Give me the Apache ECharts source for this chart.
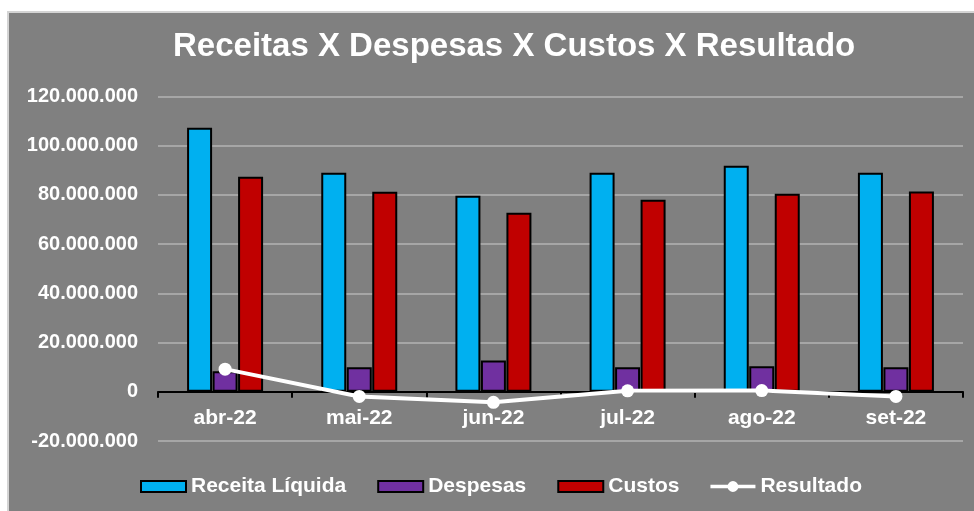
<!DOCTYPE html>
<html>
<head>
<meta charset="utf-8">
<title>Receitas X Despesas X Custos X Resultado</title>
<script src="https://cdn.jsdelivr.net/npm/echarts@6/dist/echarts.min.js"></script>
<style>
  html, body { margin: 0; padding: 0; background: #ffffff; }
  #frame {
    position: absolute; left: 7px; top: 11px; width: 980px; height: 520px;
    background: #808080; border: 2px solid #d4d4d4;
  }
  #chart { position: absolute; left: 0; top: 0; width: 974px; height: 511px; }
</style>
</head>
<body>
<div id="frame"></div>
<div id="chart"></div>
<script>
// dados
const meses = ['abr-22', 'mai-22', 'jun-22', 'jul-22', 'ago-22', 'set-22'];
const receitaLiquida = [107300000, 89000000, 79700000, 89000000, 91900000, 89000000];
const despesas = [8300000, 10000000, 12700000, 10000000, 10400000, 10000000];
const custos = [87400000, 81300000, 72800000, 78000000, 80500000, 81400000];
const resultado = [9200000, -1900000, -4300000, 400000, 500000, -1900000];

const FONT = '"Liberation Sans", Arial, sans-serif';

function fmtMilhar(v) {
  const s = Math.abs(v).toString().replace(/\B(?=(\d{3})+(?!\d))/g, '.');
  return (v < 0 ? '-' : '') + s;
}

const chartInstance = echarts.init(document.getElementById('chart'));

const barStyle = (cor) => ({
  color: cor,
  borderColor: '#000000',
  borderWidth: 2
});

// icone da legenda do Resultado: linha grossa com bolinha no meio
const iconeResultado = 'path://M0,4L50,4L50,8L0,8Z M31,6A6,6 0 1,1 19,6A6,6 0 1,1 31,6Z';

const option = {
  animation: false,
  backgroundColor: 'transparent',
  textStyle: { fontFamily: FONT },
  title: {
    text: 'Receitas X Despesas X Custos X Resultado',
    left: 173,
    top: 30,
    padding: 0,
    textStyle: { color: '#ffffff', fontSize: 33, fontWeight: 'bold', fontFamily: FONT }
  },
  legend: {
    left: 140,
    top: 476,
    padding: 0,
    itemWidth: 45,
    itemHeight: 11,
    itemGap: 31,
    textStyle: { color: '#ffffff', fontSize: 21, fontWeight: 'bold', fontFamily: FONT },
    data: [
      { name: 'Receita Líquida', icon: 'rect' },
      { name: 'Despesas', icon: 'rect' },
      { name: 'Custos', icon: 'rect' },
      { name: 'Resultado', icon: iconeResultado, itemStyle: { color: '#ffffff', borderWidth: 0 } }
    ]
  },
  grid: {
    left: 158,
    right: 11,
    top: 96.5,
    bottom: 70,
    containLabel: false
  },
  xAxis: {
    type: 'category',
    data: meses,
    axisLine: { onZero: true, lineStyle: { color: '#000000', width: 2 } },
    axisTick: { show: true, length: 6, lineStyle: { color: '#000000', width: 2 } },
    axisLabel: { color: '#ffffff', fontSize: 21, fontWeight: 'bold', fontFamily: FONT, margin: -33 }
  },
  yAxis: {
    type: 'value',
    min: -20000000,
    max: 120000000,
    interval: 20000000,
    axisLine: { show: false },
    axisTick: { show: false },
    splitLine: { lineStyle: { color: '#a6a6a6', width: 2 } },
    axisLabel: {
      color: '#ffffff', fontSize: 20, fontWeight: 'bold', fontFamily: FONT, margin: 20,
      formatter: fmtMilhar
    }
  },
  series: [
    {
      name: 'Receita Líquida',
      type: 'bar',
      barWidth: 25,
      barGap: '2%',
      itemStyle: barStyle('#00B0F0'),
      data: receitaLiquida
    },
    {
      name: 'Despesas',
      type: 'bar',
      barWidth: 25,
      barGap: '2%',
      itemStyle: barStyle('#7030A0'),
      data: despesas
    },
    {
      name: 'Custos',
      type: 'bar',
      barWidth: 25,
      barGap: '2%',
      itemStyle: barStyle('#C00000'),
      data: custos
    },
    {
      name: 'Resultado',
      type: 'line',
      symbol: 'circle',
      symbolSize: 13,
      z: 5,
      lineStyle: { color: '#ffffff', width: 4 },
      itemStyle: { color: '#ffffff' },
      data: resultado
    }
  ]
};

chartInstance.setOption(option);

window.addEventListener('resize', () => {
  chartInstance.resize();
});
</script>
</body>
</html>
